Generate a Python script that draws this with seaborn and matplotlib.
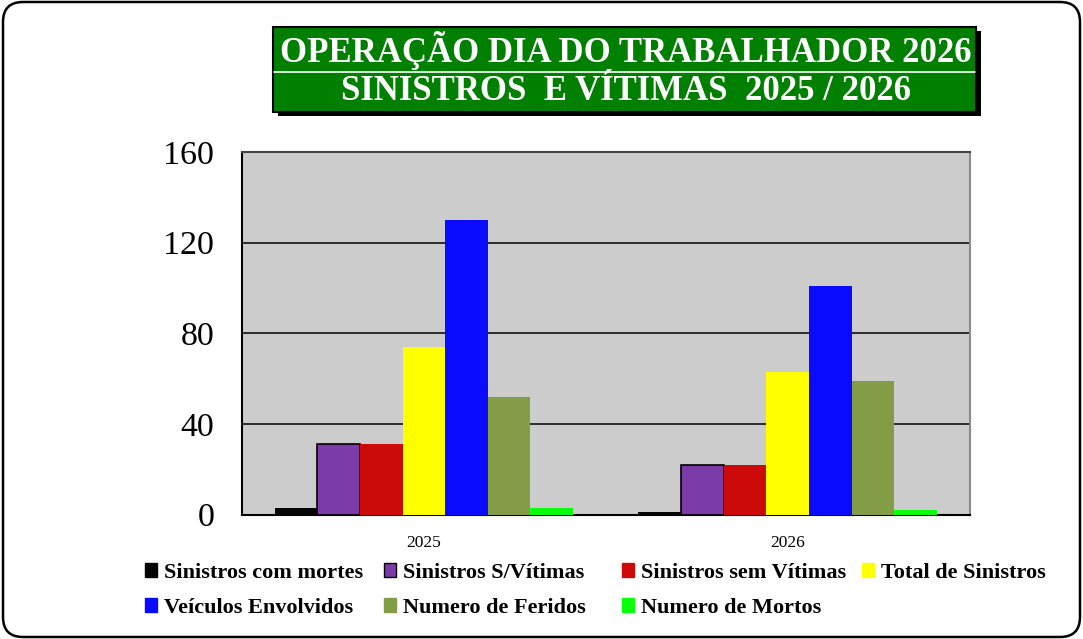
import matplotlib

matplotlib.use("Agg")
import matplotlib.pyplot as plt
import pandas as pd
import seaborn as sns
from matplotlib.patches import FancyBboxPatch, Patch, Rectangle
from matplotlib.lines import Line2D

years = ["2025", "2026"]
series = [
    "Sinistros com mortes",
    "Sinistros S/Vítimas",
    "Sinistros sem Vítimas",
    "Total de Sinistros",
    "Veículos Envolvidos",
    "Numero de Feridos",
    "Numero de Mortos",
]
values_2025 = [3, 31, 31, 74, 130, 52, 3]
values_2026 = [1, 22, 22, 63, 101, 59, 2]
colors = ["#050505", "#7B3BA9", "#CC0A0A", "#FFFF00", "#0A0AFF", "#839D47", "#0AFF0A"]
y_ticks = [0, 40, 80, 120, 160]
title_lines = ["OPERAÇÃO DIA DO TRABALHADOR 2026", "SINISTROS  E VÍTIMAS  2025 / 2026"]

W, H = 1083, 639

rows = []
for name, v25, v26 in zip(series, values_2025, values_2026):
    rows.append({"ano": "2025", "serie": name, "valor": v25})
    rows.append({"ano": "2026", "serie": name, "valor": v26})
df = pd.DataFrame(rows)

sns.set_style("white")
plt.rcParams["font.family"] = ["Liberation Serif", "DejaVu Serif"]
plt.rcParams["text.color"] = "black"
plt.rcParams["xtick.color"] = "black"
plt.rcParams["ytick.color"] = "black"

fig = plt.figure(figsize=(W / 100, H / 100), dpi=100)


def inch(x, y):
    # pixel position (top-left origin) -> inches for dpi_scale_trans
    return x / 100, (H - y) / 100


# outer rounded frame
x0, y0 = inch(3, 637)
frame = FancyBboxPatch((x0, y0), 1077 / 100, 635 / 100,
                       boxstyle="round,pad=0,rounding_size=0.2",
                       transform=fig.dpi_scale_trans, facecolor="none",
                       edgecolor="black", linewidth=1.8, zorder=5)
fig.patches.append(frame)

# plot area
ax = fig.add_axes([242 / W, 1 - 514.5 / H, 727.5 / W, 362.5 / H])
ax.set_facecolor("#CCCCCC")
sns.barplot(data=df, x="ano", y="valor", hue="serie", order=years, hue_order=series,
            palette=colors, width=0.82, saturation=1, linewidth=0, legend=False,
            ax=ax, zorder=3)
for bar in ax.containers[1]:
    bar.set_edgecolor("black")
    bar.set_linewidth(1.2)

ax.set_xlim(-0.5, 1.5)
ax.set_ylim(0, 160)
ax.set_yticks(y_ticks)
ax.set_yticklabels([str(t) for t in y_ticks])
ax.yaxis.grid(True, color="black", linewidth=1.1)
ax.set_axisbelow(True)
ax.set_xlabel("")
ax.set_ylabel("")
ax.tick_params(axis="y", length=0, pad=20, labelsize=24.5)
ax.tick_params(axis="x", which="major", length=0, pad=15, labelsize=12.5)
ax.set_xticks([-0.5, 0.5, 1.5], minor=True)
ax.tick_params(axis="x", which="minor", length=5, width=1.2, color="black", direction="out")
for side, col in [("left", "black"), ("bottom", "black"), ("top", "#444444"), ("right", "#8a8a8a")]:
    ax.spines[side].set_visible(True)
    ax.spines[side].set_color(col)
    ax.spines[side].set_linewidth(1.5)

# title box with shadow
sx, sy = inch(278, 116)
fig.patches.append(Rectangle((sx, sy), 703 / 100, 85 / 100, transform=fig.dpi_scale_trans,
                             facecolor="black", edgecolor="none", zorder=1))
bx, by = inch(273, 112)
fig.patches.append(Rectangle((bx, by), 703 / 100, 85 / 100, transform=fig.dpi_scale_trans,
                             facecolor="#007F00", edgecolor="black", linewidth=1.5, zorder=2))
lx0, ly = inch(274, 72)
lx1, _ = inch(975, 72)
fig.lines.append(Line2D([lx0, lx1], [ly, ly], transform=fig.dpi_scale_trans,
                        color="white", linewidth=1.2, zorder=3))
for text, ty in zip(title_lines, [50, 92]):
    tx, tyi = inch(626, ty)
    fig.text(tx, tyi, text, transform=fig.dpi_scale_trans, ha="center", va="center",
             color="white", fontsize=25, fontweight="bold", zorder=4)

# legend laid out on a fixed grid, row by row
legend_x = [145, 384, 622, 862]
legend_y = [573, 608]
for i, (name, col) in enumerate(zip(series, colors)):
    r, c = divmod(i, 4)
    handle = Patch(facecolor=col, edgecolor="black" if i == 1 else col, linewidth=1.0)
    fig.legend([handle], [name], loc="center left",
               bbox_to_anchor=(legend_x[c] / W, 1 - legend_y[r] / H),
               frameon=False, borderpad=0, borderaxespad=0,
               handlelength=0.55, handleheight=0.55, handletextpad=0.3,
               labelcolor="black", prop={"size": 16, "weight": "bold"})

fig.savefig("out.png", dpi=100)
